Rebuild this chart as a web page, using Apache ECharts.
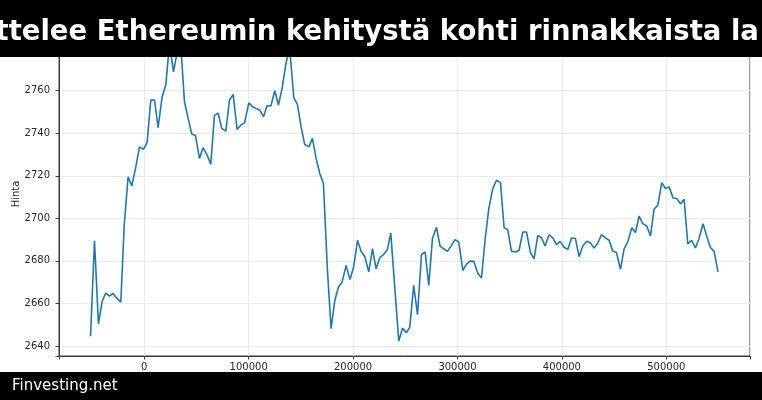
<!DOCTYPE html>
<html>
<head>
<meta charset="utf-8">
<script src="https://cdn.jsdelivr.net/npm/echarts@6/dist/echarts.min.js"></script>
<style>html,body{margin:0;padding:0;background:#fff}#c{width:762px;height:400px}</style>
</head>
<body>
<div id="c"></div>
<script>
const titleText = 'ttelee Ethereumin kehitystä kohti rinnakkaista la';
const footerText = 'Finvesting.net';
const yName = 'Hinta';
const xTicks = [0, 100000, 200000, 300000, 400000, 500000];
const yTicks = [2640, 2660, 2680, 2700, 2720, 2740, 2760];
const xValues = [
  -51500,-47700,-43900,-40400,-36900,-33300,-29900,-26300,-22500,-19200,
  -15500,-12000,-8400,-4600,-800,2700,6200,9800,13200,17100,
  20600,24100,28000,31400,35000,38500,42000,45500,49000,52900,
  56300,59900,63700,67200,70700,74200,78100,81600,85100,88900,
  92400,96000,100100,103600,107100,110600,114200,117600,121200,125000,
  128500,132000,135500,139100,143200,146700,150200,153700,157600,161100,
  164600,168100,171600,175400,178900,182500,186000,189500,193300,197100,
  200700,204200,207700,211200,215000,218600,222000,225600,229100,232900,
  236100,239900,243800,247300,251100,254300,258100,261700,265500,269000,
  272500,276000,279900,283300,286900,290400,294300,297700,301200,305100,
  308600,312100,315600,319400,323000,326400,330000,333800,337400,341200,
  344600,348200,351700,355600,359000,362600,366100,369900,373400,376900,
  380500,383900,387700,391300,394800,398300,402100,405700,409200,413000,
  416500,420000,423900,427400,430800,434400,437900,441700,445200,448800,
  452300,456100,459600,463100,466900,470500,473900,477500,481300,484900,
  488300,491900,495700,499300,502700,506500,510100,513600,517100,520600,
  524400,527900,531400,535200,538800,542300,545800,549600
];
const priceValues = [
  2644.6,2689.5,2650.4,2660.9,2664.9,2663.5,2664.7,2662.5,2660.6,2697,
  2719.5,2715.3,2723.4,2733.6,2732.4,2735.7,2755.6,2755.6,2742.6,2757.2,
  2762.7,2782,2768.9,2778,2781,2754.8,2747,2739.6,2739,2728.1,
  2733.2,2730,2725.5,2748.4,2749.5,2742.3,2741,2755.6,2758.3,2741.8,
  2743.8,2744.9,2754.3,2752.5,2751.7,2750.9,2747.8,2752.9,2752.8,2760,
  2753.2,2761.1,2772.1,2781,2756.7,2753.6,2743,2734.7,2733.6,2737.6,
  2728.1,2721.1,2716.4,2676,2648.1,2661.4,2667.7,2670,2677.9,2671.2,
  2677.6,2689.7,2684.5,2682.1,2674.8,2685.8,2676.3,2681.5,2682.9,2685.4,
  2693.1,2667.7,2642.3,2648.4,2646.3,2648.9,2668.5,2654.7,2682.9,2684.2,
  2668.5,2690.5,2695.8,2687,2685.7,2684.5,2687.3,2690,2688.9,2675.5,
  2678.5,2679.9,2679.8,2674.3,2671.9,2689.7,2704.6,2714,2717.9,2716.8,
  2695.8,2694.5,2684.6,2684.2,2685,2693.6,2693.6,2683.9,2681,2692,
  2690.9,2687,2692.3,2690.8,2687.6,2689.2,2686.4,2685.4,2690.8,2690.5,
  2682,2687,2689.2,2688.4,2686,2688.4,2692.3,2690.8,2689.7,2684.6,
  2683.9,2676,2685.7,2688.9,2695.6,2693.3,2701.1,2697.5,2696.4,2691.7,
  2704.3,2706.2,2716.8,2714,2714.8,2709.6,2709.3,2706.8,2709,2688,
  2689.7,2686.1,2690.5,2697.5,2691.6,2686.3,2684.5,2674.8
];

const FONT = 'DejaVu Sans';
const chart = echarts.init(document.getElementById('c'), null, {renderer: 'canvas'});
const pts = xValues.map((x, i) => [x, priceValues[i]]);
const txtColor = '#262626';
const spine = '#3a3a3a';

chart.setOption({
  animation: false,
  backgroundColor: '#ffffff',
  grid: {left: 59, right: 12, top: 32, bottom: 44, containLabel: false, outerBoundsMode: 'none',
    show: true, borderColor: spine, borderWidth: 1, backgroundColor: '#ffffff'},
  xAxis: {
    type: 'value', min: -81700, max: 580200, splitNumber: 7,
    axisLine: {show: true, onZero: false, lineStyle: {color: spine, width: 1}},
    axisTick: {show: true, length: 3.5, inside: false, lineStyle: {color: spine}},
    axisLabel: {margin: 6, fontFamily: FONT, fontSize: 10, color: txtColor,
      formatter: v => xTicks.indexOf(Math.round(v)) >= 0 ? String(Math.round(v)) : ''},
    splitLine: {show: true, lineStyle: {color: '#ebebeb', width: 1}}
  },
  yAxis: {
    type: 'value', min: 2635.3, max: 2787.6, splitNumber: 7,
    name: yName, nameLocation: 'middle', nameGap: 38, nameRotate: 90, nameMoveOverlap: false,
    nameTextStyle: {fontFamily: FONT, fontSize: 10, color: txtColor},
    axisLine: {show: true, onZero: false, lineStyle: {color: spine, width: 1}},
    axisTick: {show: true, length: 3.5, inside: false, lineStyle: {color: spine}},
    axisLabel: {margin: 9, fontFamily: FONT, fontSize: 10, color: txtColor,
      formatter: v => yTicks.indexOf(Math.round(v)) >= 0 && Math.abs(v - Math.round(v)) < 1e-6 ? String(Math.round(v)) : ''},
    splitLine: {show: true, lineStyle: {color: '#ebebeb', width: 1}}
  },
  series: [{
    type: 'line', data: pts, showSymbol: false, clip: true,
    lineStyle: {color: '#1f77b4', width: 1.6}, itemStyle: {color: '#1f77b4'}
  }],
  graphic: [
    {type: 'rect', z: 100, shape: {x: 0, y: 0, width: 762, height: 57}, style: {fill: '#000'}},
    {type: 'text', z: 101, x: -4.5, y: 33, style: {text: titleText, fill: '#fff', fontFamily: FONT, fontWeight: 'bold', fontSize: 27.5, textAlign: 'left', textVerticalAlign: 'middle'}},
    {type: 'rect', z: 100, shape: {x: 0, y: 372, width: 762, height: 28}, style: {fill: '#000'}},
    {type: 'text', z: 101, x: 12, y: 386, style: {text: footerText, fill: '#fff', fontFamily: FONT, fontSize: 15, textAlign: 'left', textVerticalAlign: 'middle'}}
  ]
});
</script>
</body>
</html>
